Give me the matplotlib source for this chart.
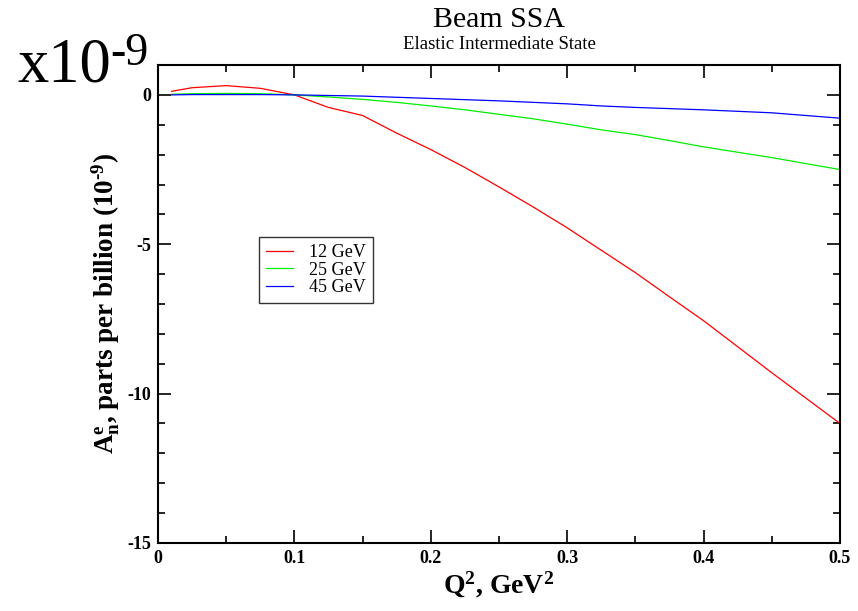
import matplotlib
matplotlib.use('Agg')
import matplotlib.pyplot as plt
from matplotlib.ticker import MultipleLocator, FuncFormatter

plt.rcParams['font.family'] = ['Liberation Serif', 'DejaVu Serif']
plt.rcParams['axes.unicode_minus'] = False
plt.rcParams['mathtext.fontset'] = 'custom'
plt.rcParams['mathtext.rm'] = 'Liberation Serif:bold'
plt.rcParams['mathtext.it'] = 'Liberation Serif:bold'
plt.rcParams['mathtext.bf'] = 'Liberation Serif:bold'

# Q^2 grid (GeV^2) and asymmetries (units of 1e-9)
q2 = [0.01, 0.025, 0.05, 0.075, 0.1, 0.125, 0.15, 0.175, 0.2, 0.225, 0.25,
      0.275, 0.3, 0.325, 0.35, 0.375, 0.4, 0.425, 0.45, 0.475, 0.5]
an_12 = [0.12, 0.24, 0.31, 0.22, 0.0, -0.42, -0.69, -1.28, -1.83, -2.43, -3.08,
         -3.75, -4.45, -5.2, -5.95, -6.76, -7.56, -8.43, -9.3, -10.15, -11.0]
an_25 = [0.02, 0.04, 0.05, 0.04, 0.0, -0.07, -0.15, -0.25, -0.37, -0.5, -0.65,
         -0.8, -0.98, -1.17, -1.33, -1.53, -1.74, -1.92, -2.1, -2.3, -2.5]
an_45 = [0.0, 0.01, 0.01, 0.01, 0.0, -0.02, -0.04, -0.08, -0.12, -0.16, -0.2,
         -0.25, -0.3, -0.37, -0.42, -0.46, -0.5, -0.55, -0.6, -0.69, -0.78]
labels = ['12 GeV', '25 GeV', '45 GeV']
colors = ['#ff0000', '#00ee00', '#0000ff']

fig = plt.figure(figsize=(8.58, 6.11), dpi=100)
ax = fig.add_axes([0.1841, 0.1113, 0.7949, 0.7823])

for y, lab, c in zip([an_12, an_25, an_45], labels, colors):
    ax.plot(q2, y, color=c, lw=0.9, label=lab)

ax.set_xlim(0, 0.5)
ax.set_ylim(-15, 1)
ax.xaxis.set_major_locator(MultipleLocator(0.1))
ax.xaxis.set_minor_locator(MultipleLocator(0.05))
ax.yaxis.set_major_locator(MultipleLocator(5))
ax.yaxis.set_minor_locator(MultipleLocator(1))
ax.xaxis.set_major_formatter(FuncFormatter(
    lambda v, p: '0' if abs(v) < 1e-9 else f'{v:g}'))
ax.yaxis.set_major_formatter(FuncFormatter(lambda v, p: f'{v:g}'))
ax.tick_params(which='both', direction='in', top=True, right=True,
               labelsize=13, width=1.2)
ax.tick_params(which='major', length=9.5, pad=5)
ax.tick_params(which='minor', length=5)
for t in ax.get_xticklabels() + ax.get_yticklabels():
    t.set_fontweight('bold')
for s in ax.spines.values():
    s.set_linewidth(1.5)

ax.set_xlabel(r'Q$^2$, GeV$^2$', fontsize=20, fontweight='bold', labelpad=2)
ax.set_ylabel(r'A$^{e}_{n}$, parts per billion (10$^{\text{-9}}$)',
              fontsize=19.5, fontweight='bold', labelpad=4)

fig.text(0.5816, 0.967, 'Beam SSA', ha='center', va='center', fontsize=21.5)
fig.text(0.5816, 0.927, 'Elastic Intermediate State', ha='center', va='center',
         fontsize=13.5)
fig.text(17 / 858, 1 - 82 / 611, 'x10', fontsize=45, ha='left', va='baseline')
fig.text(110 / 858, 1 - 65 / 611, '-9', fontsize=33, ha='left', va='baseline')

leg = ax.legend(loc='upper left', bbox_to_anchor=(0.148, 0.64), fontsize=13,
                frameon=True, fancybox=False, edgecolor='black',
                handlelength=1.5, borderaxespad=0, labelspacing=0.02,
                handletextpad=0.85, borderpad=0.4)
leg.get_frame().set_linewidth(1.0)

fig.savefig('out.png', dpi=100)
